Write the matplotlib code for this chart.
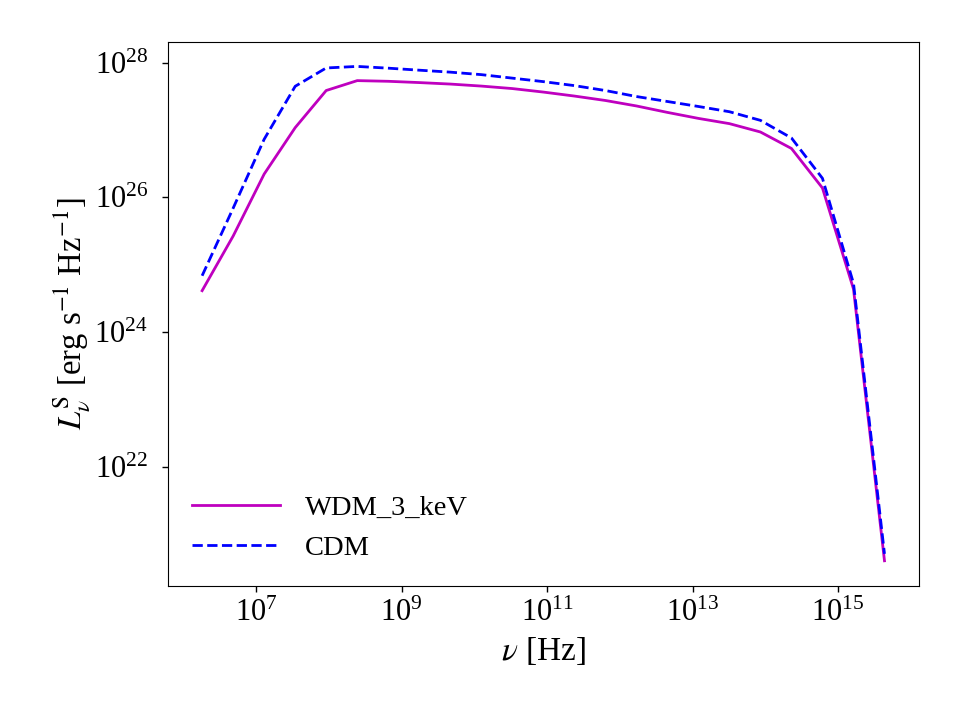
import numpy as np
import matplotlib
matplotlib.use("Agg")
import matplotlib.pyplot as plt

plt.rcParams['font.family'] = ['Liberation Serif', 'DejaVu Serif']
plt.rcParams['mathtext.fontset'] = 'stix'

# log10 of frequency [Hz]
log_nu = [6.255, 6.682, 7.108, 7.535, 7.961, 8.388, 8.814, 9.241, 9.667,
          10.094, 10.520, 10.947, 11.373, 11.800, 12.226, 12.653, 13.079,
          13.506, 13.932, 14.359, 14.785, 15.212, 15.638]

# log10 of luminosity [erg s^-1 Hz^-1]
log_L_wdm = [24.614, 25.426, 26.346, 27.036, 27.587, 27.734, 27.724, 27.705,
             27.683, 27.653, 27.616, 27.564, 27.505, 27.439, 27.358, 27.262,
             27.173, 27.095, 26.971, 26.726, 26.139, 24.638, 20.602]

log_L_cdm = [24.836, 25.840, 26.863, 27.650, 27.922, 27.945, 27.919, 27.889,
             27.860, 27.823, 27.771, 27.719, 27.660, 27.587, 27.498, 27.424,
             27.350, 27.272, 27.144, 26.882, 26.283, 24.722, 20.705]

labels = ['WDM_3_keV', 'CDM']
xticks = [1e7, 1e9, 1e11, 1e13, 1e15]
yticks = [1e22, 1e24, 1e26, 1e28]

nu = 10 ** np.array(log_nu)
L_wdm = 10 ** np.array(log_L_wdm)
L_cdm = 10 ** np.array(log_L_cdm)

fig = plt.figure(figsize=(9.6, 7.2), dpi=100)
ax = fig.add_axes([168/960, 1 - 585.5/720, (918.6 - 168)/960, (585.5 - 41.7)/720])

ax.plot(nu, L_wdm, color='m', lw=2.0, label=labels[0])
ax.plot(nu, L_cdm, color='b', lw=2.0, ls='--', label=labels[1])

ax.set_xscale('log')
ax.set_yscale('log')
ax.set_xticks(xticks)
ax.set_yticks(yticks)
ax.minorticks_off()
ax.tick_params(labelsize=22, length=4.3, width=1)
ax.tick_params(axis='y', pad=10)
ax.tick_params(axis='x', pad=5)

ax.set_xlabel(r'$\nu$ [Hz]', fontsize=24, labelpad=5)
ax.set_ylabel(r'$L_\nu^{\rm S}$ [erg s$^{-1}$ Hz$^{-1}$]', fontsize=23.5, labelpad=2)

ax.legend(loc='lower left', frameon=False, fontsize=20.5, handlelength=3.1,
          handletextpad=0.85, labelspacing=0.5, borderaxespad=0.45)

fig.savefig('out.png', dpi=100)
